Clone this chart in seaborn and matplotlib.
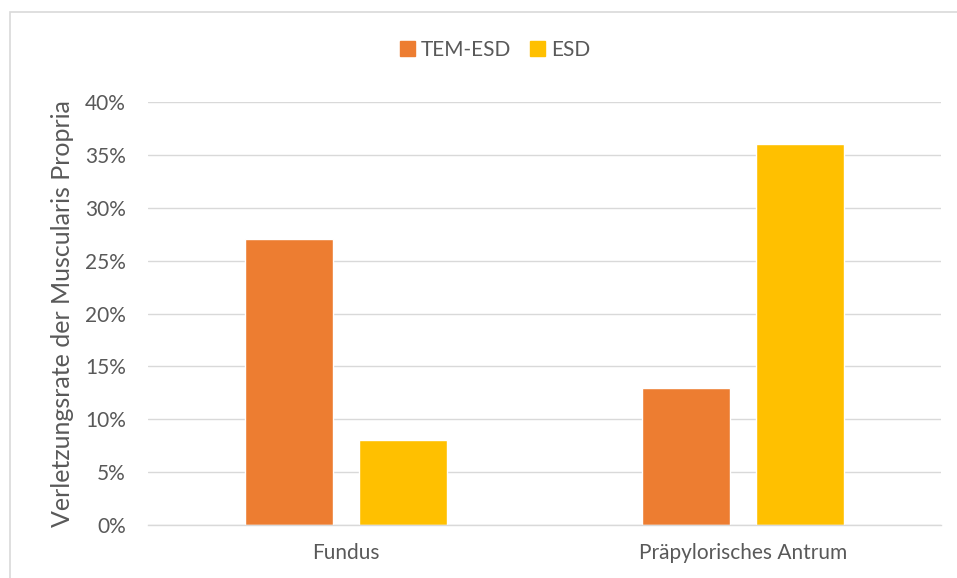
import matplotlib
matplotlib.use("Agg")
import matplotlib.pyplot as plt
import matplotlib.patches as mpatches
import seaborn as sns
import pandas as pd
from matplotlib.ticker import FuncFormatter

categories = ["Fundus", "Präpylorisches Antrum"]
series = ["TEM-ESD", "ESD"]
tem_esd = [27, 13]
esd = [8, 36]
colors = ["#ED7D31", "#FFC000"]

df = pd.DataFrame({
    "Lokalisation": categories * 2,
    "Methode": [series[0]] * 2 + [series[1]] * 2,
    "Wert": tem_esd + esd,
})

sns.set_theme(style="white")
plt.rcParams['font.family'] = ['Lato', 'DejaVu Sans']
txt = "#595959"

W, H = 957, 578
fig = plt.figure(figsize=(W / 100, H / 100), dpi=100)
ax = fig.add_axes([148 / W, 1 - 525 / H, (941 - 148) / W, (525 - 102) / H])

sns.barplot(data=df, x="Lokalisation", y="Wert", hue="Methode",
            palette=colors, width=0.575, gap=0.228, ax=ax,
            saturation=1, legend=True)

ax.set_ylim(0, 40)
ax.set_yticks(range(0, 41, 5))
ax.yaxis.set_major_formatter(FuncFormatter(lambda v, p: f"{int(v)}%"))
ax.grid(axis="y", color="#d9d9d9", linewidth=1)
ax.set_axisbelow(True)
for s in ["top", "right", "left"]:
    ax.spines[s].set_visible(False)
ax.spines["bottom"].set_color("#d9d9d9")
ax.spines["bottom"].set_linewidth(1)
ax.tick_params(axis="both", length=0, labelsize=15, colors=txt)
ax.tick_params(axis="y", pad=16)
ax.tick_params(axis="x", pad=13)
ax.set_xlabel("")
ax.set_ylabel("Verletzungsrate der Muscularis Propria", fontsize=18, color=txt, labelpad=8)

ax.legend_.remove()
handles = [mpatches.Patch(color=c, label=l) for c, l in zip(colors, series)]
fig.legend(handles=handles, loc="center", bbox_to_anchor=(495 / W, 1 - 50 / H),
           ncol=2, frameon=False, fontsize=15, labelcolor=txt,
           handlelength=0.7, handleheight=0.7, handletextpad=0.3, columnspacing=0.9)

border = mpatches.Rectangle((9.5 / W, -0.1), 1.2, 1 - 11.5 / H + 0.1,
                            transform=fig.transFigure, fill=False,
                            edgecolor="#d9d9d9", linewidth=1.2)
fig.patches.append(border)

fig.savefig("out.png", dpi=100)
